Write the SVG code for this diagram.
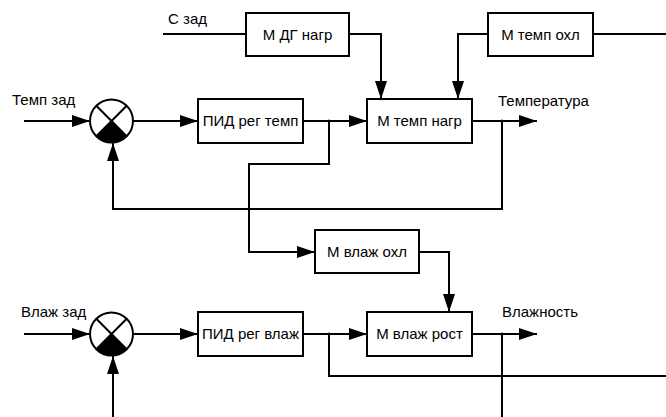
<svg xmlns="http://www.w3.org/2000/svg" width="666" height="417" viewBox="0 0 666 417">
<style>
.box{fill:#fff;stroke:#000;stroke-width:2}
.ln{fill:none;stroke:#000;stroke-width:2}
.t{font-family:"Liberation Sans",Arial,sans-serif;font-size:15px;fill:#000}
.c{text-anchor:middle}
</style>
<defs>
<marker id="ar" markerWidth="18" markerHeight="12" refX="18" refY="6" orient="auto" markerUnits="userSpaceOnUse">
<path d="M0,0 L18,6 L0,12 Z" fill="#000"/>
</marker>
</defs>
<rect width="666" height="417" fill="#fff"/>
<g id="connectors">
<path class="ln" d="M163,34 H246"/>
<path class="ln" d="M349,34 H381 V99" marker-end="url(#ar)"/>
<path class="ln" d="M488,34 H458 V99" marker-end="url(#ar)"/>
<path class="ln" d="M593,34 H666"/>
<path class="ln" d="M24,121 H90" marker-end="url(#ar)"/>
<path class="ln" d="M133,121 H198" marker-end="url(#ar)"/>
<path class="ln" d="M303,121 H367" marker-end="url(#ar)"/>
<path class="ln" d="M472,121 H537" marker-end="url(#ar)"/>
<path class="ln" d="M502,121 V209 H113 V143" marker-end="url(#ar)"/>
<path class="ln" d="M329,121 V164 H249 V252 H315" marker-end="url(#ar)"/>
<path class="ln" d="M419,252 H449 V312" marker-end="url(#ar)"/>
<path class="ln" d="M24,334 H90" marker-end="url(#ar)"/>
<path class="ln" d="M133,334 H198" marker-end="url(#ar)"/>
<path class="ln" d="M303,334 H367" marker-end="url(#ar)"/>
<path class="ln" d="M472,334 H537" marker-end="url(#ar)"/>
<path class="ln" d="M329,334 V376 H666"/>
<path class="ln" d="M502,334 V417"/>
<path class="ln" d="M113,417 V356" marker-end="url(#ar)"/>
<circle cx="329" cy="121" r="1.5"/>
<circle cx="502" cy="121" r="1.5"/>
<circle cx="329" cy="334" r="1.5"/>
<circle cx="502" cy="334" r="1.5"/>
</g>
<g id="labels">
<text class="t" x="168" y="24">С зад</text>
<text class="t" x="12" y="105">Темп зад</text>
<text class="t" x="498" y="106">Температура</text>
<text class="t" x="21" y="317">Влаж зад</text>
<text class="t" x="502" y="317">Влажность</text>
</g>
<g id="sum1">
<circle cx="111.5" cy="121" r="21.5" fill="#fff" stroke="#000" stroke-width="2"/>
<path d="M111.5,121 L126.7,136.2 A21.5,21.5 0 0 1 96.3,136.2 Z" fill="#000"/>
<path class="ln" d="M96.3,105.8 L126.7,136.2 M126.7,105.8 L96.3,136.2"/>
</g>
<g id="sum2">
<circle cx="111.5" cy="334" r="21.5" fill="#fff" stroke="#000" stroke-width="2"/>
<path d="M111.5,334 L126.7,349.2 A21.5,21.5 0 0 1 96.3,349.2 Z" fill="#000"/>
<path class="ln" d="M96.3,318.8 L126.7,349.2 M126.7,318.8 L96.3,349.2"/>
</g>
<g id="m_dg_nagr">
<rect class="box" x="246" y="13" width="103" height="43"/>
<text class="t c" x="297.5" y="40">М ДГ нагр</text>
</g>
<g id="m_temp_ohl">
<rect class="box" x="488" y="13" width="105" height="43"/>
<text class="t c" x="540.5" y="40">М темп охл</text>
</g>
<g id="pid_temp">
<rect class="box" x="198" y="99" width="105" height="44"/>
<text class="t c" x="250.5" y="126">ПИД рег темп</text>
</g>
<g id="m_temp_nagr">
<rect class="box" x="367" y="99" width="105" height="44"/>
<text class="t c" x="419.5" y="126">М темп нагр</text>
</g>
<g id="m_vlazh_ohl">
<rect class="box" x="315" y="230" width="104" height="43"/>
<text class="t c" x="367" y="257">М влаж охл</text>
</g>
<g id="pid_vlazh">
<rect class="box" x="198" y="312" width="105" height="44"/>
<text class="t c" x="250.5" y="339">ПИД рег влаж</text>
</g>
<g id="m_vlazh_rost">
<rect class="box" x="367" y="312" width="105" height="44"/>
<text class="t c" x="419.5" y="339">М влаж рост</text>
</g>
</svg>
